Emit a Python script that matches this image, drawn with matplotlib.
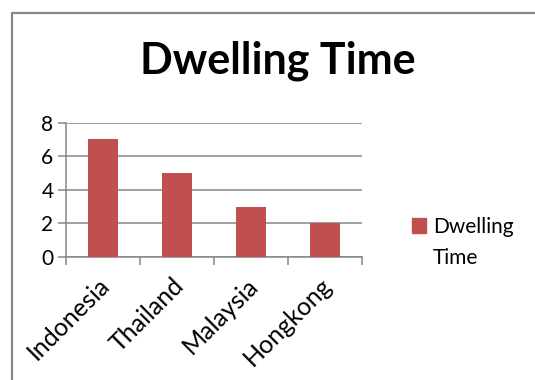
import numpy as np
import matplotlib
matplotlib.use("Agg")
import matplotlib.pyplot as plt
from matplotlib.lines import Line2D
from matplotlib.patches import Rectangle
from matplotlib.transforms import ScaledTranslation

countries = ["Indonesia", "Thailand", "Malaysia", "Hongkong"]
dwelling = [7, 5, 3, 2]
yticks = [0, 2, 4, 6, 8]
series_name = ["Dwelling", "Time"]
title = "Dwelling Time"

plt.rcParams['font.family'] = ['Lato', 'DejaVu Sans']
bar_col = "#C0504D"
grid_col = "#868686"

fig = plt.figure(figsize=(5.35, 3.8), dpi=100)
ax = fig.add_axes([66/535, 1-257/380, 296/535, (257-122.7)/380])

x = np.arange(len(countries))
ax.bar(x, dwelling, width=0.4, color=bar_col, zorder=3)
ax.set_xlim(-0.5, len(countries)-0.5)
ax.set_ylim(0, 8)
ax.set_yticks(yticks)
ax.yaxis.grid(True, color=grid_col, lw=1.1, zorder=0)
for s in ["top", "right"]:
    ax.spines[s].set_visible(False)
for s in ["left", "bottom"]:
    ax.spines[s].set_color(grid_col)
    ax.spines[s].set_linewidth(1.1)
ax.tick_params(axis="y", length=6, width=1.1, color=grid_col, labelsize=15, pad=3)

# category boundaries carry the tick marks, labels sit at centres
ax.set_xticks(np.arange(len(countries)+1) - 0.5)
ax.set_xticklabels([])
ax.tick_params(axis="x", which="major", length=6, width=1.1, color=grid_col)
ax.set_xticks(x, minor=True)
ax.set_xticklabels(countries, minor=True, rotation=45, ha="right",
                   rotation_mode="anchor", fontsize=18)
ax.tick_params(axis="x", which="minor", length=0, pad=12)
shift = ScaledTranslation(-5/100, 0, fig.dpi_scale_trans)
for lab in ax.get_xticklabels(minor=True):
    lab.set_transform(lab.get_transform() + shift)

fig.text(278/535, 1-61/380, title, ha="center", va="center",
         fontsize=31, fontweight="bold")

# legend: swatch next to the first line of the series name
fig.add_artist(Rectangle((412/535, 1-233/380), 14/535, 15/380,
                         transform=fig.transFigure, color=bar_col))
fig.text(433/535, 1-233/380, series_name[0], fontsize=15, va="baseline")
fig.text(433/535, 1-264/380, series_name[1], fontsize=15, va="baseline")

# chart-area border (only top and left visible in the crop)
fig.add_artist(Line2D([12/535, 12/535, 1], [0, 1-13/380, 1-13/380],
                      transform=fig.transFigure, color="#878787", lw=1.6))

fig.savefig("out.png", dpi=100)
